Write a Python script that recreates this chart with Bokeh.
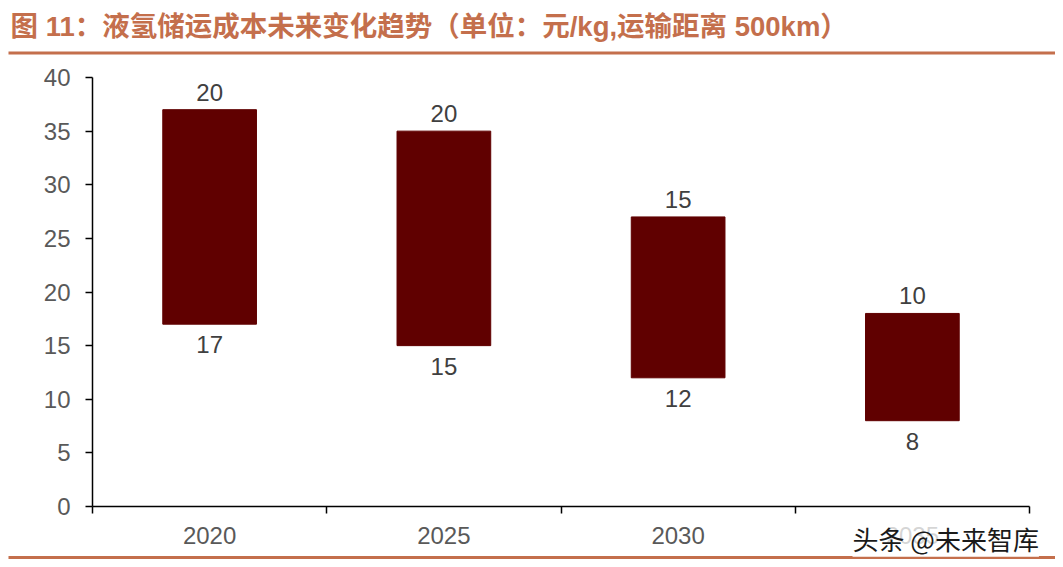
from bokeh.plotting import figure
from bokeh.models import Range1d, FixedTicker, Label, BoxAnnotation, ColumnDataSource
from bokeh.embed import file_html
from bokeh.resources import INLINE
from bokeh.core.properties import value

# ---- data ----
years = ["2020", "2025", "2030", "2035"]
low_cost = [17, 15, 12, 8]        # lower bound (元/kg), label under bar
cost_range = [20, 20, 15, 10]     # span of the floating bar, label above bar
y_ticks = [0, 5, 10, 15, 20, 25, 30, 35, 40]

title_text = "图 11：液氢储运成本未来变化趋势（单位：元/kg,运输距离 500km）"
watermark = "头条 @未来智库"

# ---- layout constants (pixels) ----
W, H = 1055, 559
AX_LEFT, AX_RIGHT = 92, 1029      # x-axis extent
AX_TOP, AX_ZERO = 77, 506         # y of top tick and of zero

n = len(years)
ymax = y_ticks[-1]
px_per_cat = (AX_RIGHT - AX_LEFT) / n
px_per_unit = (AX_ZERO - AX_TOP) / ymax

xs = [i + 0.5 for i in range(n)]
tops = [l + s for l, s in zip(low_cost, cost_range)]
src = ColumnDataSource(dict(
    x=xs, low=low_cost, top=tops,
    lowtxt=[str(v) for v in low_cost],
    spantxt=[str(v) for v in cost_range],
))

FONT = "Liberation Sans"
TITLE_COLOR = "#C46F4C"

p = figure(width=W, height=H,
           x_range=Range1d(-AX_LEFT / px_per_cat, (W - AX_LEFT) / px_per_cat),
           y_range=Range1d(-(H - AX_ZERO) / px_per_unit, ymax + AX_TOP / px_per_unit),
           output_backend="svg", toolbar_location=None,
           min_border=0, min_border_left=0, min_border_right=0,
           min_border_top=0, min_border_bottom=0)
p.outline_line_color = None
p.xgrid.visible = False
p.ygrid.visible = False
p.background_fill_color = "white"
p.border_fill_color = "white"

# floating bars
p.vbar(x="x", bottom="low", top="top", width=0.4, source=src,
       fill_color="#600000", line_color="#600000")

# value labels
p.text(x="x", y="top", text="spantxt", source=src,
       text_align="center", text_baseline="top", y_offset=-26,
       text_font=value(FONT), text_font_size="24px", text_color="#404040")
p.text(x="x", y="low", text="lowtxt", source=src,
       text_align="center", text_baseline="top", y_offset=12,
       text_font=value(FONT), text_font_size="24px", text_color="#404040")

# x axis: labels at centres, ticks at category boundaries
xa = p.xaxis[0]
xa.fixed_location = 0
xa.bounds = (0, n)
xa.ticker = FixedTicker(ticks=xs, minor_ticks=list(range(n + 1)))
xa.major_label_overrides = {float(x): y for x, y in zip(xs, years)}
xa.major_tick_out = 0
xa.major_tick_in = 0
xa.minor_tick_out = 7
xa.minor_tick_in = 0
xa.minor_tick_line_color = "black"
xa.minor_tick_line_width = 1.5
xa.axis_line_color = "black"
xa.axis_line_width = 1.5
xa.major_label_standoff = 13
xa.major_label_text_font = FONT
xa.major_label_text_font_size = "24px"
xa.major_label_text_color = "#595959"

ya = p.yaxis[0]
ya.fixed_location = 0
ya.bounds = (0, ymax)
ya.ticker = FixedTicker(ticks=y_ticks)
ya.major_tick_out = 7
ya.major_tick_in = 0
ya.major_tick_line_color = "black"
ya.major_tick_line_width = 1.5
ya.minor_tick_line_color = None
ya.axis_line_color = "black"
ya.axis_line_width = 1.5
ya.major_label_standoff = 15
ya.major_label_text_font = FONT
ya.major_label_text_font_size = "24px"
ya.major_label_text_color = "#595959"

# title, rules and watermark (screen units, origin bottom-left of frame = canvas)
p.add_layout(Label(x=10, y=H - 26, x_units="screen", y_units="screen",
                   text=title_text, text_baseline="middle",
                   text_font="Liberation Sans, Noto Sans CJK SC", text_font_style="bold",
                   text_font_size="27.5px", text_color=TITLE_COLOR))
p.add_layout(BoxAnnotation(left=8, right=W, top=H - 51, bottom=H - 54,
                           left_units="screen", right_units="screen",
                           top_units="screen", bottom_units="screen",
                           fill_color=TITLE_COLOR, fill_alpha=1, line_color=None))
p.add_layout(BoxAnnotation(left=8, right=W, top=3.5, bottom=0,
                           left_units="screen", right_units="screen",
                           top_units="screen", bottom_units="screen",
                           fill_color=TITLE_COLOR, fill_alpha=1, line_color=None))
p.add_layout(Label(x=852, y=H - 538, x_units="screen", y_units="screen",
                   text=watermark, text_baseline="middle",
                   text_font="Noto Sans CJK SC", text_font_size="26px",
                   text_color="#1a1a1a",
                   background_fill_color="white", background_fill_alpha=0.75))

open("out.html", "w").write(file_html(p, INLINE))
